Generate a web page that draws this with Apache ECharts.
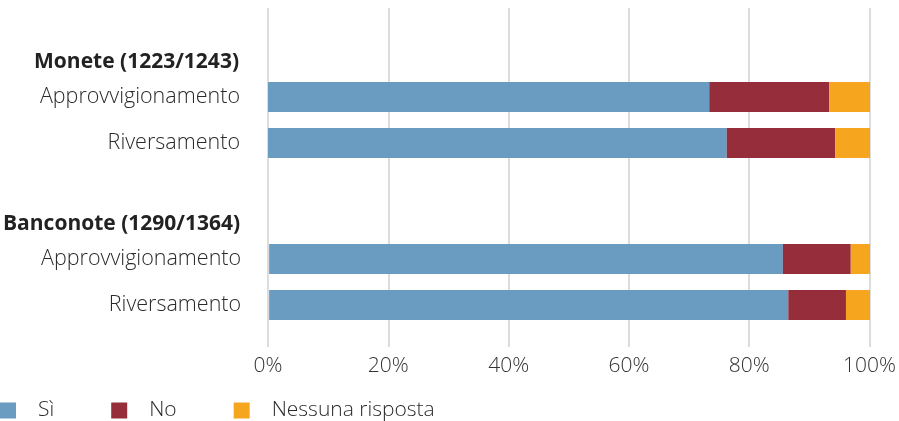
<!DOCTYPE html>
<html>
<head>
<meta charset="utf-8">
<script src="https://cdn.jsdelivr.net/npm/echarts@6/dist/echarts.min.js"></script>
<style>
  html, body { margin: 0; padding: 0; background: #fff; }
  #main { width: 899px; height: 421px; }
</style>
</head>
<body>
<div id="main"></div>
<script>
// dati (percentuali)
var rows = ['Approvvigionamento', 'Riversamento'];
var groups = ['Monete (1223/1243)', 'Banconote (1290/1364)'];
var seriesNames = ['Sì', 'No', 'Nessuna risposta'];
var moneteSi = [73.3, 76.2];
var moneteNo = [19.9, 18.0];
var moneteNr = [6.8, 5.8];
var banconoteSi = [85.5, 86.4];
var banconoteNo = [11.3, 9.6];
var banconoteNr = [3.2, 4.0];
var xTicks = [0, 20, 40, 60, 80, 100];

var colors = ['#6a9bc1', '#952d3b', '#f6a51e'];
var font = '"Open Sans"';

var myChart = echarts.init(document.getElementById('main'));

function groupAxis(idx) {
    return {
        type: 'category',
        gridIndex: idx,
        data: rows,
        inverse: true,
        axisLine: {show: false},
        axisTick: {show: false},
        axisLabel: {
            margin: 28,
            fontFamily: font,
            fontWeight: 300,
            fontSize: 21.5,
            color: '#2a2a2a'
        },
        name: groups[idx - 1],
        nameLocation: 'start',
        nameGap: 12,
        nameTextStyle: {
            align: 'right',
            verticalAlign: 'middle',
            padding: [0, 29, 0, 0],
            fontFamily: font,
            fontWeight: 'bold',
            fontSize: 21,
            color: '#222'
        }
    };
}

function hiddenX(idx) {
    return {
        type: 'value', gridIndex: idx, min: 0, max: 100, interval: 20,
        show: false, splitLine: {show: false}
    };
}

function bar(name, idx, data, ci) {
    return {
        name: name,
        type: 'bar',
        stack: 'g' + idx,
        xAxisIndex: idx,
        yAxisIndex: idx,
        barWidth: 30,
        itemStyle: {color: colors[ci]},
        data: data
    };
}

var option = {
    animation: false,
    color: colors,
    grid: [
        {left: 268, right: 29, top: 8, bottom: 74},
        {left: 268, right: 29, top: 74, height: 92},
        {left: 268, right: 29, top: 236, height: 92}
    ],
    legend: {
        left: 0,
        top: 400,
        padding: 0,
        itemWidth: 16,
        itemHeight: 16,
        itemGap: 57,
        icon: 'rect',
        data: seriesNames,
        textStyle: {
            fontFamily: font,
            fontWeight: 300,
            fontSize: 21,
            color: '#2a2a2a',
            padding: [0, 0, 0, 17]
        }
    },
    xAxis: [
        {
            type: 'value', gridIndex: 0, min: xTicks[0], max: xTicks[xTicks.length - 1], interval: 20,
            axisLine: {show: false},
            axisTick: {show: false},
            axisLabel: {
                margin: 9,
                fontFamily: font,
                fontWeight: 300,
                fontSize: 21,
                color: '#333',
                formatter: '{value}%'
            },
            splitLine: {lineStyle: {color: '#d0d0d0', width: 1.5}}
        },
        hiddenX(1),
        hiddenX(2)
    ],
    yAxis: [
        {type: 'category', gridIndex: 0, data: [], show: false},
        groupAxis(1),
        groupAxis(2)
    ],
    series: [
        bar(seriesNames[0], 1, moneteSi, 0),
        bar(seriesNames[1], 1, moneteNo, 1),
        bar(seriesNames[2], 1, moneteNr, 2),
        bar(seriesNames[0], 2, banconoteSi, 0),
        bar(seriesNames[1], 2, banconoteNo, 1),
        bar(seriesNames[2], 2, banconoteNr, 2)
    ]
};

myChart.setOption(option);
window.onresize = function () {
    myChart.resize();
};
</script>
</body>
</html>
